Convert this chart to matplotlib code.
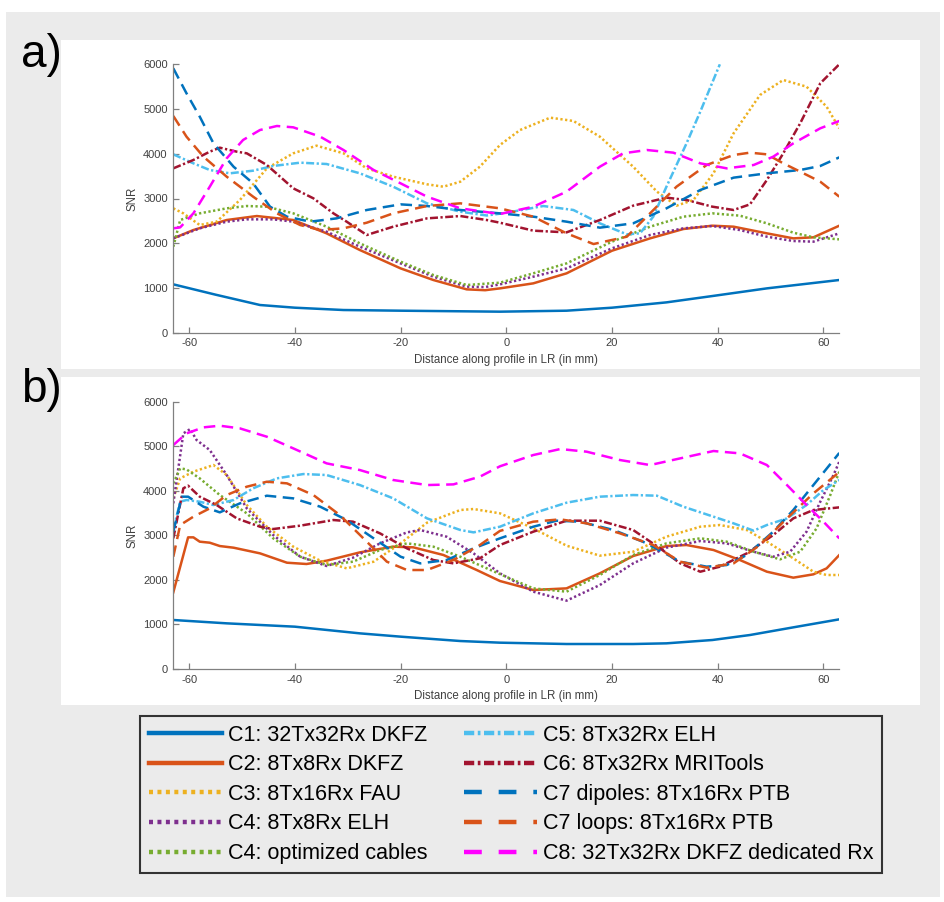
import numpy as np
import matplotlib
matplotlib.use('Agg')
import matplotlib.pyplot as plt
from matplotlib.lines import Line2D
from matplotlib.patches import Rectangle

plt.rcParams['font.family'] = ['Liberation Sans', 'DejaVu Sans']
plt.rcParams['axes.unicode_minus'] = False

# SNR profiles along LR, (distance in mm, SNR) pairs per coil
# panel a
A_C1 = [(-63, 1081), (-55, 850), (-46.6, 619), (-40, 559), (-30.8, 507), (-20, 492), (-1.2, 470),
        (11.4, 492), (20, 559), (30.3, 678), (39, 820), (49.3, 991), (63, 1178)]
A_C2 = [(-63, 2109), (-59.2, 2295), (-52.9, 2519), (-47.2, 2608), (-40.3, 2519), (-34, 2221),
        (-27.7, 1848), (-20, 1438), (-13.8, 1178), (-7.5, 969), (-4, 950), (-1.2, 991), (5.1, 1103),
        (11.4, 1327), (20, 1833), (27.2, 2109), (33.5, 2318), (39, 2392), (43, 2370), (49.3, 2221),
        (54.3, 2109), (58.1, 2132), (63, 2392)]
A_C3 = [(-63, 2780), (-61.1, 2668), (-58, 2407), (-54.8, 2482), (-50.4, 2966), (-45.3, 3674),
        (-40.3, 4010), (-35.9, 4181), (-30.8, 4010), (-26.4, 3674), (-21.4, 3488), (-15, 3317),
        (-11.9, 3264), (-8.7, 3376), (-5, 3711), (-1.2, 4196), (2.6, 4531), (8.3, 4807), (12.7, 4733),
        (17.7, 4382), (24, 3711), (28.5, 3153), (32.2, 2840), (35.4, 2966), (39.2, 3563), (43, 4457),
        (48, 5314), (52.4, 5649), (56.8, 5500), (60.6, 5053), (63, 4569)]
A_C4 = [(-63, 2109), (-58, 2333), (-52.9, 2482), (-49.1, 2534), (-44.1, 2534), (-40.3, 2482),
        (-34, 2258), (-27.7, 1923), (-20, 1550), (-13.8, 1252), (-7.5, 1029), (-4, 1020), (-1.2, 1081),
        (5.1, 1252), (11.4, 1438), (20, 1886), (27.2, 2184), (33.5, 2333), (39, 2385), (44.2, 2295),
        (49.3, 2146), (54.3, 2050), (58.1, 2035), (63, 2221)]
A_C4O = [(-63, 1923), (-61.7, 2519), (-58, 2668), (-52.9, 2780), (-49.1, 2832), (-45.3, 2817),
         (-40.3, 2668), (-34, 2370), (-27.7, 1997), (-20, 1588), (-13.8, 1289), (-7.5, 1066),
         (-1.2, 1118), (5.1, 1327), (11.4, 1550), (20, 2035), (27.2, 2370), (33.5, 2594), (39, 2668),
         (44.2, 2616), (49.3, 2445), (54.3, 2236), (58.1, 2132), (63, 2087)]
A_C5 = [(-63, 3987), (-59.2, 3786), (-56.1, 3637), (-52.3, 3563), (-47.9, 3622), (-44.1, 3727),
        (-39, 3801), (-34, 3771), (-27.7, 3563), (-21.4, 3264), (-15, 2892), (-8.7, 2705),
        (-3.7, 2620), (0, 2680), (7, 2832), (12.7, 2743), (17.7, 2445), (22.8, 2199), (25.3, 2221),
        (27.8, 2594), (30.3, 3264), (34.1, 4233), (36.7, 4941), (40.4, 6000)]
A_C6 = [(-63, 3674), (-59.2, 3861), (-56.1, 4047), (-54.2, 4136), (-51, 4047), (-49.1, 4010),
        (-45.3, 3749), (-40.3, 3227), (-36.5, 3004), (-32.7, 2668), (-30.2, 2482), (-26.4, 2184),
        (-21.4, 2370), (-15, 2556), (-8.7, 2608), (-3.7, 2519), (-1.2, 2459), (5.1, 2281),
        (11.4, 2243), (17.7, 2519), (24, 2840), (30.3, 3019), (34.1, 2966), (39, 2817), (43, 2743),
        (46.1, 2869), (49.3, 3414), (52.4, 4010), (55.6, 4681), (59.4, 5575), (63, 6000)]
A_C7D = [(-63, 5910), (-60.5, 5351), (-58, 4830), (-55.4, 4233), (-51.6, 3711), (-47.9, 3339),
         (-44.7, 2817), (-41.5, 2594), (-37.1, 2482), (-32.1, 2556), (-26.4, 2743), (-20, 2869),
         (-15, 2832), (-8.7, 2743), (-1.2, 2668), (5.1, 2594), (11.4, 2482), (17.7, 2348), (24, 2445),
         (30.3, 2780), (36.7, 3190), (43, 3466), (49.3, 3563), (55.6, 3637), (59.4, 3727), (63, 3920)]
A_C7L = [(-63, 4845), (-60.5, 4382), (-57.3, 3935), (-52.9, 3488), (-47.9, 3041), (-43.4, 2668),
         (-39, 2407), (-35.2, 2296), (-30.8, 2333), (-26.4, 2459), (-21.4, 2668), (-15, 2832),
         (-8.7, 2892), (-1.2, 2780), (5.1, 2594), (11.4, 2221), (16.5, 1982), (22.8, 2146),
         (27.2, 2668), (32.2, 3264), (37.9, 3749), (43, 3972), (46.1, 4025), (49.3, 3987),
         (52.4, 3786), (55.6, 3600), (59.4, 3376), (63, 3041)]
A_C8 = [(-63, 2333), (-61.7, 2355), (-59.2, 2668), (-56.1, 3264), (-52.9, 3898), (-49.8, 4308),
        (-46.6, 4531), (-43.4, 4621), (-40.3, 4591), (-35.2, 4382), (-30.8, 4084), (-25.1, 3637),
        (-20, 3339), (-15, 3041), (-8.7, 2780), (-1.2, 2653), (5.1, 2817), (11.4, 3153), (17.7, 3711),
        (22.1, 4010), (26.6, 4084), (31.6, 4025), (36.7, 3786), (41.7, 3674), (46.8, 3749),
        (50.5, 3935), (54.3, 4233), (59.4, 4569), (63, 4733)]

# panel b
B_C1 = [(-63, 1100), (-52.9, 1025), (-40, 950), (-27.7, 800), (-20, 726), (-8.7, 628), (-1.2, 591),
        (11.4, 561), (24, 561), (30.3, 576), (39, 651), (46.1, 763), (54.3, 935), (63, 1115)]
B_C2 = [(-63, 1721), (-60.2, 2955), (-59.2, 2955), (-58, 2858), (-56.1, 2835), (-54.2, 2760),
        (-51.6, 2723), (-46.6, 2596), (-41.5, 2386), (-37.8, 2357), (-34, 2431), (-27.7, 2618),
        (-21.4, 2746), (-17.6, 2731), (-11.9, 2559), (-5.6, 2222), (-1.2, 1975), (5.1, 1773),
        (11.4, 1810), (17.7, 2147), (24, 2536), (30.3, 2760), (34.1, 2783), (39.2, 2671), (44.2, 2446),
        (49.3, 2184), (54.3, 2050), (58.1, 2125), (60.6, 2259), (63, 2558)]
B_C3 = [(-63, 3830), (-61.7, 4279), (-59.2, 4429), (-55.4, 4578), (-52.9, 4354), (-49.1, 3681),
        (-45.3, 3194), (-40.3, 2746), (-35.2, 2431), (-30.2, 2259), (-25.1, 2409), (-20, 2820),
        (-15, 3284), (-8.7, 3569), (-6.2, 3591), (-1.2, 3494), (5.1, 3157), (11.4, 2768), (17.7, 2544),
        (24, 2633), (30.3, 2970), (36.7, 3194), (40.4, 3232), (45.5, 3120), (49.3, 2858), (54.3, 2484),
        (58.1, 2184), (60.6, 2110), (63, 2110)]
B_C4 = [(-63, 3718), (-61.1, 5289), (-59.8, 5386), (-58.6, 5140), (-56.1, 4915), (-52.9, 4354),
        (-49.1, 3606), (-44.1, 3007), (-39, 2521), (-34, 2312), (-29, 2499), (-23.9, 2820),
        (-18.8, 3067), (-16.3, 3120), (-11.3, 2970), (-6.2, 2596), (-1.2, 2147), (5.1, 1736),
        (11.4, 1534), (17.7, 1885), (24, 2371), (30.3, 2723), (36.7, 2873), (41.7, 2820), (46.8, 2633),
        (50.5, 2521), (53.7, 2633), (56.8, 3082), (59.4, 3755), (61.9, 4354), (63, 4653)]
B_C4O = [(-63, 4167), (-61.7, 4504), (-60.5, 4480), (-58, 4279), (-54.2, 3905), (-49.1, 3494),
         (-44.1, 2933), (-39, 2521), (-34, 2334), (-29, 2409), (-23.9, 2671), (-18.8, 2820),
         (-13.8, 2746), (-8.7, 2521), (-1.2, 2130), (5.1, 1810), (11.4, 1736), (17.7, 2110),
         (24, 2559), (30.3, 2820), (36.7, 2933), (41.7, 2858), (46.8, 2633), (51.8, 2461),
         (55.6, 2633), (58.7, 3157), (61.3, 3905), (63, 4429)]
B_C5 = [(-63, 3120), (-61.7, 3755), (-60.5, 3793), (-58, 3755), (-55.4, 3681), (-51.6, 3793),
        (-47.9, 4055), (-43.4, 4279), (-38.4, 4376), (-34, 4354), (-27.7, 4129), (-21.4, 3830),
        (-15, 3381), (-8.7, 3120), (-6.2, 3067), (-1.2, 3194), (5.1, 3494), (11.4, 3733), (17.7, 3868),
        (24, 3905), (28.5, 3890), (33.5, 3643), (39.2, 3419), (43, 3269), (46.8, 3105), (49.3, 3232),
        (53.1, 3381), (56.8, 3681), (60, 4017), (63, 4242)]
B_C6 = [(-63, 2933), (-61.1, 4055), (-60.2, 4115), (-58, 3868), (-54.8, 3681), (-51, 3381),
        (-46.6, 3194), (-44.1, 3142), (-39, 3217), (-32.7, 3344), (-29, 3307), (-23.9, 3045),
        (-18.8, 2708), (-13.8, 2446), (-10, 2371), (-5, 2484), (-1.2, 2783), (5.1, 3082), (11.4, 3329),
        (17.7, 3329), (24, 3120), (29.1, 2708), (32.9, 2371), (36.7, 2184), (40.4, 2297), (45.5, 2596),
        (50.5, 3007), (54.3, 3381), (58.1, 3569), (63, 3628)]
B_C7D = [(-63, 3082), (-61.4, 3868), (-60.2, 3868), (-57.3, 3643), (-54.2, 3516), (-50.4, 3718),
         (-45.3, 3890), (-40.3, 3830), (-35.2, 3643), (-30.2, 3344), (-25.1, 2933), (-20, 2521),
         (-16.3, 2371), (-11.3, 2446), (-6.2, 2708), (-1.2, 2933), (5.1, 3194), (9.5, 3329),
         (13.9, 3307), (20.3, 3120), (26.6, 2820), (32.9, 2409), (37.9, 2297), (41.7, 2334),
         (45.5, 2559), (50.5, 3082), (54.3, 3569), (58.1, 4129), (63, 4850)]
B_C7L = [(-63, 2521), (-61.7, 3232), (-59.2, 3419), (-56.1, 3606), (-52.9, 3905), (-49.1, 4092),
         (-45.3, 4204), (-41.5, 4167), (-36.5, 3905), (-31.5, 3456), (-26.4, 2858), (-22.6, 2409),
         (-18.8, 2222), (-15, 2222), (-10, 2446), (-5, 2783), (-1.2, 3100), (5.1, 3307), (10.2, 3359),
         (15.2, 3269), (21.5, 3045), (27.8, 2783), (32.9, 2409), (37.9, 2274), (43, 2371), (48, 2783),
         (53.1, 3381), (58.1, 3942), (63, 4420)]
B_C8 = [(-63, 5027), (-60.5, 5289), (-57.3, 5424), (-54.2, 5461), (-50.4, 5401), (-45.3, 5214),
        (-40.3, 4952), (-34, 4616), (-27.7, 4466), (-21.4, 4242), (-15, 4129), (-10, 4144), (-5, 4317),
        (-1.2, 4550), (5.1, 4803), (10.2, 4937), (15.2, 4878), (21.5, 4691), (27.2, 4578),
        (32.9, 4728), (39.2, 4893), (44.2, 4840), (49.3, 4578), (53.1, 4129), (56.8, 3681),
        (60, 3307), (63, 2933)]

LABELS = ['C1: 32Tx32Rx DKFZ', 'C2: 8Tx8Rx DKFZ', 'C3: 8Tx16Rx FAU', 'C4: 8Tx8Rx ELH',
          'C4: optimized cables', 'C5: 8Tx32Rx ELH', 'C6: 8Tx32Rx MRITools',
          'C7 dipoles: 8Tx16Rx PTB', 'C7 loops: 8Tx16Rx PTB', 'C8: 32Tx32Rx DKFZ dedicated Rx']
COLORS = ['#0072BD', '#D95319', '#EDB120', '#7E2F8E', '#77AC30',
          '#4DBEEE', '#A2142F', '#0072BD', '#D95319', '#FF00FF']
DOT = (0, (0.9, 1.0))
DASHDOT = (0, (3.2, 1.0, 0.9, 1.0))
DASH = (0, (4.6, 2.6))
STYLES = ['-', '-', DOT, DOT, DOT, DASHDOT, DASHDOT, DASH, DASH, DASH]
LEG_STYLES = ['-', '-', DOT, DOT, DOT, (0, (2.3, 0.8, 0.6, 0.8)), (0, (2.3, 0.8, 0.6, 0.8)),
              (0, (4.0, 3.8)), (0, (4.0, 3.8)), (0, (4.0, 3.8))]

W, H = 945, 902
fig = plt.figure(figsize=(W / 100, H / 100), dpi=100, facecolor='white')

def px_rect(x0, y0, x1, y1, **kw):
    r = Rectangle((x0 / W, 1 - y1 / H), (x1 - x0) / W, (y1 - y0) / H,
                  transform=fig.transFigure, zorder=-10, **kw)
    fig.patches.append(r)

bg = '#ebebeb'
px_rect(6, 12, 940, 897, facecolor=bg, edgecolor='none')
px_rect(61, 40, 920, 369, facecolor='white', edgecolor='none')
px_rect(61, 377, 920, 705, facecolor='white', edgecolor='none')

def make_axes(top, bottom):
    left, right = 173.3, 839.3
    ax = fig.add_axes([left / W, 1 - bottom / H, (right - left) / W, (bottom - top) / H])
    ax.set_facecolor('none')
    return ax

def draw_panel(ax, series):
    for pts, c, ls in zip(series, COLORS, STYLES):
        xy = np.array(pts, dtype=float)
        ax.plot(xy[:, 0], xy[:, 1], color=c, linestyle=ls, lw=1.8)
    ax.set_xlim(-63, 63)
    ax.set_ylim(0, 6000)
    ax.set_xticks(np.arange(-60, 61, 20))
    ax.set_yticks(np.arange(0, 6001, 1000))
    for s in ['top', 'right']:
        ax.spines[s].set_visible(False)
    for s in ['left', 'bottom']:
        ax.spines[s].set_color('#808080')
        ax.spines[s].set_linewidth(0.9)
    ax.tick_params(direction='in', length=4, width=0.9, color='#808080',
                   labelsize=8, labelcolor='#404040', pad=4)
    ax.set_xlabel('Distance along profile in LR (in mm)', fontsize=8.3, color='#404040', labelpad=4)
    ax.set_ylabel('SNR', fontsize=8.3, color='#404040', labelpad=3)

ax_a = make_axes(64.3, 332.7)
draw_panel(ax_a, [A_C1, A_C2, A_C3, A_C4, A_C4O, A_C5, A_C6, A_C7D, A_C7L, A_C8])
ax_b = make_axes(401.7, 669.0)
draw_panel(ax_b, [B_C1, B_C2, B_C3, B_C4, B_C4O, B_C5, B_C6, B_C7D, B_C7L, B_C8])

fig.text(21 / W, 1 - 66.7 / H, 'a)', fontsize=33, va='baseline', ha='left', color='black')
fig.text(21 / W, 1 - 401.7 / H, 'b)', fontsize=33, va='baseline', ha='left', color='black')

handles = [Line2D([], [], color=c, linestyle=ls, lw=3.2) for c, ls in zip(COLORS, LEG_STYLES)]
leg = fig.legend(handles, LABELS, ncol=2, loc='upper left',
                 bbox_to_anchor=(140 / W, 1 - 716 / H), fontsize=15.5,
                 handlelength=3.4, handletextpad=0.28, columnspacing=1.7,
                 labelspacing=0.4, borderpad=0.4, borderaxespad=0,
                 fancybox=False, framealpha=1)
leg.get_frame().set_facecolor(bg)
leg.get_frame().set_edgecolor('#333333')
leg.get_frame().set_linewidth(1.5)

fig.savefig('out.png', dpi=100, facecolor='white')
